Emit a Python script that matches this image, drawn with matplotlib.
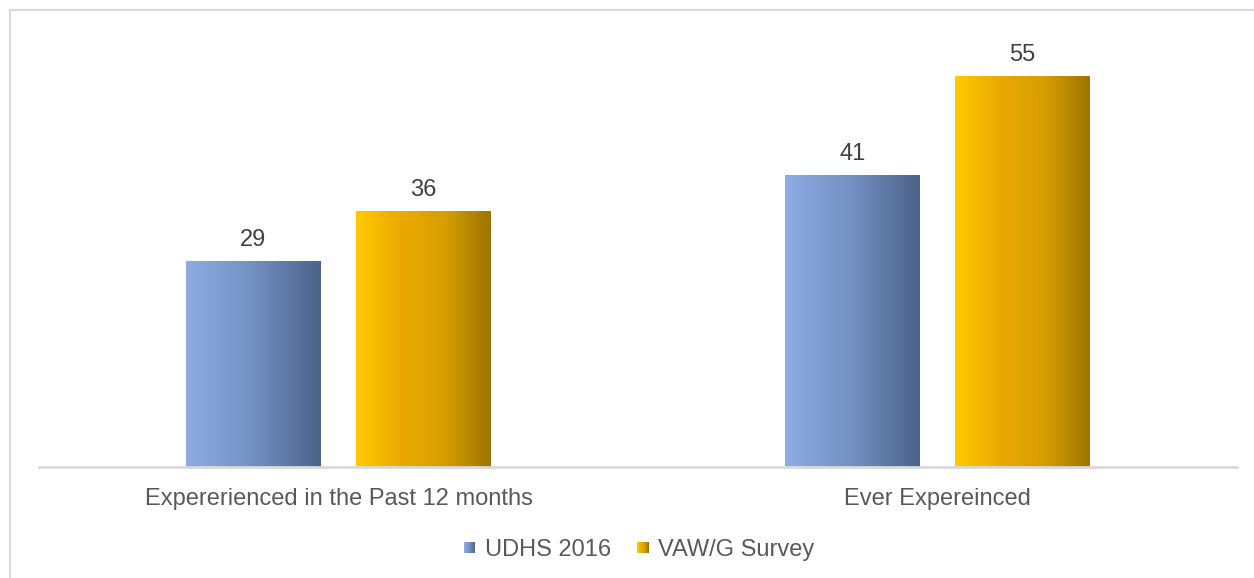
import matplotlib
matplotlib.use("Agg")
import matplotlib.pyplot as plt
import numpy as np
from matplotlib.colors import LinearSegmentedColormap
from matplotlib.patches import Rectangle
from matplotlib.legend_handler import HandlerBase
from matplotlib.lines import Line2D

plt.rcParams['font.family'] = ['Liberation Sans', 'DejaVu Sans']

categories = ['Expererienced in the Past 12 months', 'Ever Expereinced']
series = ['UDHS 2016', 'VAW/G Survey']
udhs = [29, 41]
vawg = [36, 55]

blue_cmap = LinearSegmentedColormap.from_list('blue', ['#8EACE3', '#7390C2', '#4C6288'])
gold_cmap = LinearSegmentedColormap.from_list('gold', ['#FFCA00', '#EBAA00', '#D69E00', '#9C7400'])
grad = np.linspace(0, 1, 256).reshape(1, -1)

fig = plt.figure(figsize=(12.54, 5.78), dpi=100)
ax = fig.add_axes([39/1254, 1-467/578, 1198/1254, 428/578])

x = np.arange(len(categories))
w = 0.225
off = 0.142

for vals, shift, cmap in [(udhs, -off, blue_cmap), (vawg, off, gold_cmap)]:
    bars = ax.bar(x + shift, vals, w, color='none', edgecolor='none')
    for b, v in zip(bars, vals):
        x0 = b.get_x()
        ax.imshow(grad, cmap=cmap, aspect='auto', extent=(x0, x0 + w, 0, v),
                  interpolation='bicubic', zorder=2)
        ax.text(b.get_x() + w/2, v + 1.5, str(v), ha='center', va='bottom',
                fontsize=17, color='#404040')

ax.set_xlim(-0.5, 1.5)
ax.set_ylim(0, 60.3)
ax.set_xticks(x)
ax.set_xticklabels(categories, fontsize=17, color='#595959')
ax.tick_params(axis='x', length=0, pad=15)
ax.set_yticks([])
for s in ['top', 'right', 'left']:
    ax.spines[s].set_visible(False)
ax.spines['bottom'].set_color('#D9D9D9')
ax.spines['bottom'].set_linewidth(2)
ax.spines['bottom'].set_zorder(3)


class GradHandler(HandlerBase):
    def __init__(self, cmap):
        super().__init__()
        self.cmap = cmap

    def create_artists(self, legend, orig_handle, xdescent, ydescent, width, height, fontsize, trans):
        n = 20
        size = height * 0.68
        x0 = width - size
        y0 = (height - size) / 2
        arts = []
        for i in range(n):
            r = Rectangle((x0 - xdescent + i * size / n, y0 - ydescent), size / n + 0.05, size,
                          facecolor=self.cmap(i / (n - 1)), edgecolor='none', transform=trans)
            arts.append(r)
        return arts


h1 = Rectangle((0, 0), 1, 1)
h2 = Rectangle((0, 0), 1, 1)
leg = fig.legend([h1, h2], series, loc='center', bbox_to_anchor=(639/1254, 1-550/578),
                 ncol=2, frameon=False, fontsize=17, handlelength=0.5, handletextpad=0.4,
                 columnspacing=1.1,
                 handler_map={h1: GradHandler(blue_cmap), h2: GradHandler(gold_cmap)})
for t in leg.get_texts():
    t.set_color('#595959')

# outer chart frame (left and top edges)
fig.add_artist(Line2D([10/1254, 10/1254], [0, 1-10/578], transform=fig.transFigure,
                      color='#D9D9D9', lw=1.5))
fig.add_artist(Line2D([10/1254, 1], [1-10/578, 1-10/578], transform=fig.transFigure,
                      color='#D9D9D9', lw=1.5))

fig.savefig('out.png', dpi=100)
